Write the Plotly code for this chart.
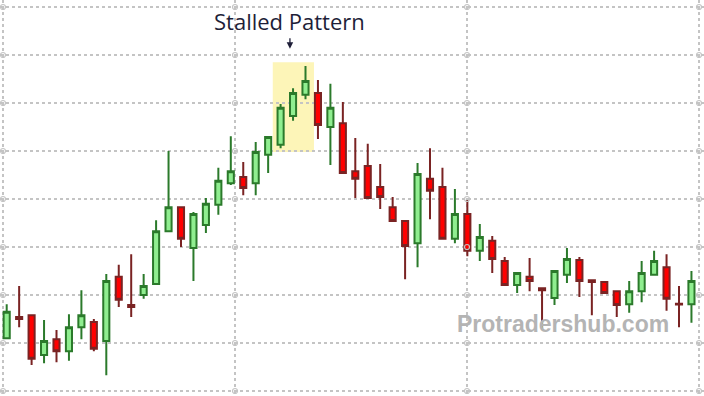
import numpy as np
import plotly.graph_objects as go

# ---- data ----
idx = list(range(56))
opens  = [101.0, 105.4, 105.8, 97.5, 100.8, 98.3, 103.3, 104.4, 100.4, 113.8,
          107.9, 110.0, 112.3, 123.3, 128.3, 119.8, 124.6, 128.8, 133.3, 134.6,
          133.3, 139.2, 141.3, 147.3, 151.7, 152.1, 145.0, 145.8, 135.8, 136.9,
          132.5, 128.3, 125.4, 120.8, 134.2, 132.5, 121.7, 126.9, 119.2, 121.3,
          117.1, 112.1, 113.8, 111.4, 109.4, 114.2, 117.3, 113.1, 112.7, 110.8,
          108.1, 110.8, 114.2, 115.8, 108.2, 108.1]
highs  = [108.1, 111.9, 106.0, 104.8, 102.7, 106.0, 111.0, 105.0, 114.4, 116.3,
          118.5, 114.4, 125.6, 140.0, 128.5, 127.3, 130.2, 136.5, 143.1, 137.7,
          141.9, 143.1, 149.8, 153.1, 157.7, 154.8, 154.0, 150.2, 142.7, 141.5,
          137.3, 130.4, 125.6, 137.5, 140.6, 136.5, 132.1, 129.8, 124.8, 122.3,
          117.9, 114.8, 117.7, 111.5, 115.2, 119.8, 117.9, 113.2, 112.8, 111.0,
          112.9, 117.1, 119.2, 118.5, 111.9, 115.0]
lows   = [100.8, 103.3, 95.4, 95.8, 96.0, 96.3, 100.8, 98.3, 93.3, 107.5,
          105.4, 109.2, 112.1, 123.2, 120.0, 112.9, 122.9, 126.7, 132.9, 130.8,
          130.8, 135.4, 140.6, 146.3, 150.8, 142.5, 137.1, 135.2, 130.2, 130.0,
          127.9, 125.2, 113.3, 115.8, 125.8, 121.5, 120.8, 118.1, 117.1, 114.6,
          111.9, 110.4, 110.8, 103.1, 107.9, 112.5, 109.6, 105.8, 110.3, 105.4,
          106.3, 108.5, 114.0, 106.7, 103.3, 104.2]
closes = [106.5, 105.0, 96.7, 100.4, 98.3, 103.3, 105.8, 98.8, 112.9, 109.0,
          107.5, 111.9, 123.3, 128.3, 121.7, 126.9, 129.0, 133.8, 135.8, 132.3,
          139.8, 142.9, 149.0, 152.1, 154.6, 145.4, 149.0, 135.4, 134.2, 130.2,
          130.4, 125.4, 120.2, 135.2, 131.7, 121.7, 126.9, 119.2, 122.1, 117.5,
          112.1, 114.6, 112.9, 111.0, 115.0, 117.5, 112.9, 112.7, 110.4, 107.9,
          110.8, 114.6, 117.1, 109.2, 108.0, 112.9]

title_text = "Stalled Pattern"
watermark_text = "Protradershub.com"

# ---- layout geometry ----
W, H = 704, 396
x_min, x_max = -0.538, 56.008
y_min, y_max = 88.96, 171.46
xg0, xgd = -0.297, 18.635
yg0, ygd = 100, 10

fig = go.Figure()

fig.add_trace(go.Candlestick(
    x=idx, open=opens, high=highs, low=lows, close=closes,
    increasing=dict(line=dict(color="#2b7a2b", width=2), fillcolor="#90EE90"),
    decreasing=dict(line=dict(color="#7a2323", width=2), fillcolor="#FF0000"),
    whiskerwidth=0, showlegend=False, hoverinfo="skip",
))

# small hollow circles on grid intersections
gx = [xg0 + k * xgd for k in range(4)]
gy = [yg0 - 10 + k * ygd for k in range(9)]
cx, cy = np.meshgrid(gx, gy)
fig.add_trace(go.Scatter(
    x=cx.ravel(), y=cy.ravel(), mode="markers",
    marker=dict(symbol="circle-open", size=5, color="#c4c4c4", line=dict(width=1.2)),
    showlegend=False, hoverinfo="skip",
))

# highlight box around the stall
fig.add_shape(type="rect", x0=21.37, x1=24.68, y0=139.8, y1=158.5,
              fillcolor="#FDF5B8", line=dict(width=0), layer="below")

fig.add_annotation(x=22.7, y=167.0, text=title_text, showarrow=False,
                   font=dict(family="Open Sans", size=22, color="#1e1e38"),
                   xanchor="center", yanchor="middle")
fig.add_annotation(x=22.75, y=161.3, ax=0, ay=-12, text="", showarrow=True,
                   arrowhead=2, arrowsize=1, arrowwidth=1.3, arrowcolor="#1e1e38",
                   axref="pixel", ayref="pixel")
fig.add_annotation(x=44.7, y=103.9, text="<b>" + watermark_text + "</b>", showarrow=False,
                   font=dict(family="Liberation Sans", size=23, color="#b4b4b4"),
                   xanchor="center", yanchor="middle")

axis_common = dict(showticklabels=False, zeroline=False, showline=False, ticks="",
                   showgrid=True, gridcolor="#c4c4c4", gridwidth=2, griddash="dot")
fig.update_layout(
    width=W, height=H, margin=dict(l=0, r=0, t=0, b=0),
    paper_bgcolor="white", plot_bgcolor="white", showlegend=False,
    xaxis=dict(range=[x_min, x_max], tick0=xg0, dtick=xgd,
               rangeslider=dict(visible=False), **axis_common),
    yaxis=dict(range=[y_min, y_max], tick0=yg0, dtick=ygd, **axis_common),
)

fig.write_html("out.html")
